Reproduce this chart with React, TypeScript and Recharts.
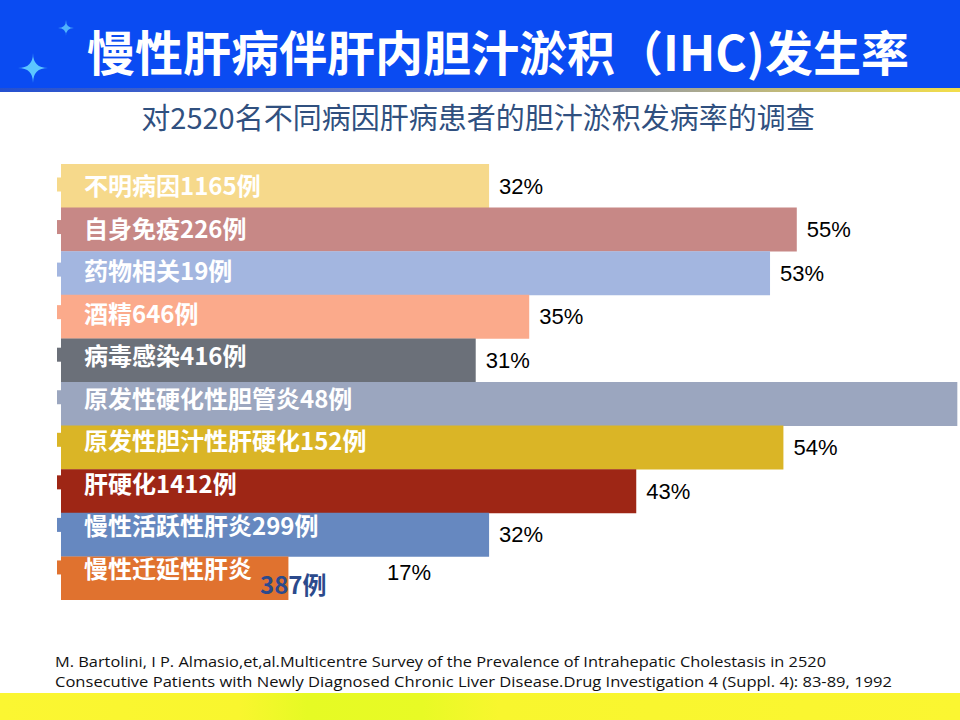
import React from 'react';
import { BarChart, Bar, XAxis, YAxis, Cell, LabelList } from 'recharts';

const names = [
  '不明病因',
  '自身免疫',
  '药物相关',
  '酒精',
  '病毒感染',
  '原发性硬化性胆管炎',
  '原发性胆汁性肝硬化',
  '肝硬化',
  '慢性活跃性肝炎',
  '慢性迁延性肝炎'
];
const cases = [1165, 226, 19, 646, 416, 48, 152, 1412, 299, 387];
const rates = [32, 55, 53, 35, 31, 67, 54, 43, 32, 17];
const colors = [
  '#F6D98B',
  '#C78886',
  '#A3B6E0',
  '#FBAA8B',
  '#6B7079',
  '#9BA6BF',
  '#DAB526',
  '#9E2615',
  '#6688C0',
  '#E0722F'
];

const data = names.map((name, i) => ({ name, cases: cases[i], rate: rates[i] }));

const CJK = '"Noto Sans CJK SC", "Noto Sans", sans-serif';
const NAME_SIZE = 24;
const CHART_W = 960;

// rough width of a bold CJK label (digits are about half an em)
function labelWidth(s: string, fs: number) {
  let w = 0;
  for (const ch of s) w += /[0-9]/.test(ch) ? fs * 0.57 : fs;
  return w;
}

function RowLabel(props: any) {
  const vb = props.viewBox || props;
  const { x, y, width, height } = vb;
  const i = names.indexOf(props.value);
  if (i < 0) return null;
  const mid = y + height / 2;
  const nameY = mid - 1.5 - i * 1.05;
  const tx = x + 23;
  const full = `${names[i]}${cases[i]}例`;
  const wrapped = tx - x + labelWidth(full, NAME_SIZE) > width;
  const nameEnd = tx + labelWidth(names[i], NAME_SIZE);
  const countText = `${cases[i]}例`;
  const pctX = wrapped ? nameEnd + 10 + labelWidth(countText, NAME_SIZE) + 60 : x + width + 10;
  const pctY = wrapped ? mid - 6 : mid;
  // the bar that runs off the slide has its value off-slide too
  const pctVisible = pctX + 30 < CHART_W;
  return (
    <g>
      <rect x={x - 4} y={nameY - 7} width={4} height={14} fill={colors[i]} />
      <text
        x={tx}
        y={nameY}
        dominantBaseline="central"
        fill="#ffffff"
        fontFamily={CJK}
        fontWeight={700}
        fontSize={NAME_SIZE}
      >
        {wrapped ? names[i] : full}
      </text>
      {wrapped && (
        <text
          x={nameEnd + 8}
          y={mid + 5}
          dominantBaseline="central"
          fill="#2B4A8C"
          fontFamily={CJK}
          fontWeight={700}
          fontSize={NAME_SIZE}
        >
          {countText}
        </text>
      )}
      {pctVisible && (
        <text
          x={pctX}
          y={pctY}
          dominantBaseline="central"
          fill="#000000"
          fontFamily='"Liberation Sans", Arial, sans-serif'
          fontSize={22}
        >
          {`${rates[i]}%`}
        </text>
      )}
    </g>
  );
}

function star(cx: number, cy: number, r: number) {
  return `M${cx},${cy - r} Q${cx},${cy} ${cx + r},${cy} Q${cx},${cy} ${cx},${cy + r} Q${cx},${cy} ${cx - r},${cy} Q${cx},${cy} ${cx},${cy - r} Z`;
}

export default function App() {
  return (
    <div
      style={{
        position: 'relative',
        width: 960,
        height: 720,
        overflow: 'hidden',
        background: '#ffffff',
        fontFamily: CJK
      }}
    >
      <style>{'body{margin:0}'}</style>

      {/* header band */}
      <div style={{ position: 'absolute', left: 0, top: 0, width: 960, height: 88, background: '#0A4BF2' }} />
      <div
        style={{
          position: 'absolute',
          left: 0,
          top: 88,
          width: 960,
          height: 4,
          background: 'linear-gradient(90deg, #2450D0 0%, #7A86BE 55%, #F3DE4A 100%)'
        }}
      />
      <svg style={{ position: 'absolute', left: 0, top: 0 }} width={120} height={90}>
        <path d={star(33, 68, 15)} fill="#5CC6FF" />
        <path d={star(66, 28, 8)} fill="#5CC6FF" opacity={0.85} />
      </svg>
      <div
        style={{
          position: 'absolute',
          left: 0,
          top: 20,
          width: 996,
          textAlign: 'center',
          color: '#ffffff',
          fontSize: 48,
          fontWeight: 700,
          lineHeight: '60px'
        }}
      >
        慢性肝病伴肝内胆汁淤积（IHC)发生率
      </div>
      <div
        style={{
          position: 'absolute',
          left: 0,
          top: 97,
          width: 956,
          textAlign: 'center',
          color: '#30507F',
          fontSize: 29,
          lineHeight: '38px'
        }}
      >
        对2520名不同病因肝病患者的胆汁淤积发病率的调查
      </div>

      <div style={{ position: 'absolute', left: 0, top: 164 }}>
        <BarChart
          width={CHART_W}
          height={436}
          data={data}
          layout="vertical"
          margin={{ top: 0, right: 0, left: 61, bottom: 0 }}
          barCategoryGap={0}
        >
          <XAxis type="number" domain={[0, 67.2]} hide allowDataOverflow />
          <YAxis type="category" dataKey="name" hide />
          <Bar dataKey="rate" isAnimationActive={false}>
            {data.map((d, i) => (
              <Cell key={d.name} fill={colors[i]} />
            ))}
            <LabelList dataKey="name" content={RowLabel} />
          </Bar>
        </BarChart>
      </div>

      {/* reference */}
      <svg style={{ position: 'absolute', left: 0, top: 640 }} width={960} height={80}>
        <text x={55} y={27} fontFamily='"Open Sans", sans-serif' fontSize={15} fill="#111" textLength={771} lengthAdjust="spacingAndGlyphs">
          M. Bartolini, I P. Almasio,et,al.Multicentre Survey of the Prevalence of Intrahepatic Cholestasis in 2520
        </text>
        <text x={55} y={47} fontFamily='"Open Sans", sans-serif' fontSize={15} fill="#111" textLength={837} lengthAdjust="spacingAndGlyphs">
          Consecutive Patients with Newly Diagnosed Chronic Liver Disease.Drug Investigation 4 (Suppl. 4): 83-89, 1992
        </text>
      </svg>
      <div
        style={{
          position: 'absolute',
          left: 0,
          top: 693,
          width: 960,
          height: 27,
          background:
            'linear-gradient(90deg, #FBF632 0%, #F9F62E 25%, #E6FA24 32%, #E8FA25 44%, #F8F62E 52%, #FBF631 100%)'
        }}
      />
    </div>
  );
}
